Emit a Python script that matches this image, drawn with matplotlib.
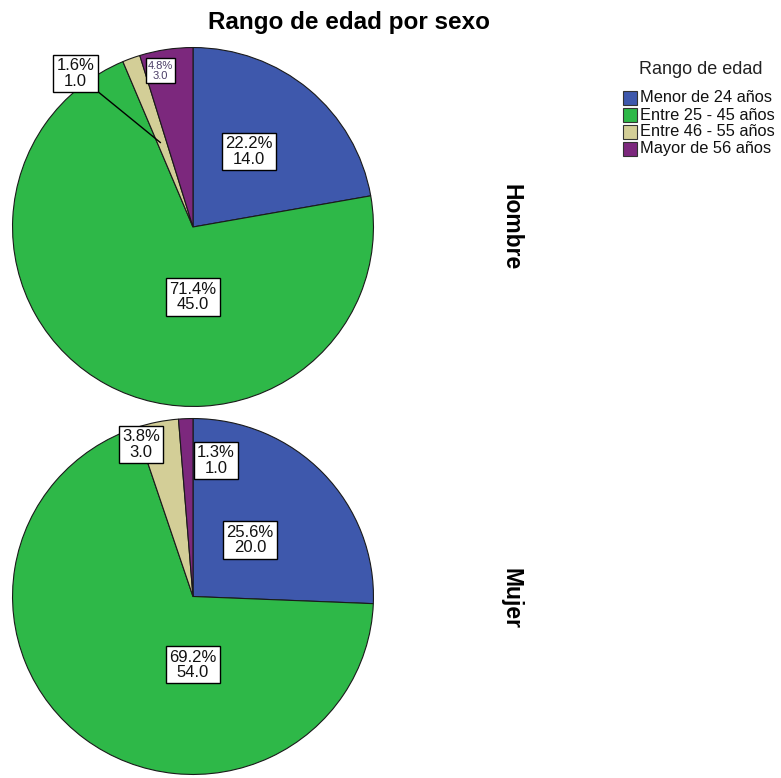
import matplotlib
matplotlib.use("Agg")
import matplotlib.pyplot as plt
from matplotlib.patches import Rectangle

plt.rcParams['font.family'] = ['Liberation Sans', 'DejaVu Sans']

# Data
categories = ["Menor de 24 años", "Entre 25 - 45 años", "Entre 46 - 55 años", "Mayor de 56 años"]
hombre_counts = [14, 45, 1, 3]
mujer_counts = [20, 54, 3, 1]
groups = ["Hombre", "Mujer"]
title = "Rango de edad por sexo"
legend_title = "Rango de edad"

colors = ["#3E58AC", "#2EB848", "#D3CE97", "#7C287D"]

W, H = 781, 778
fig = plt.figure(figsize=(W / 100, H / 100), dpi=100)

def px_axes(x0, y0, x1, y1):
    """Axes placed by pixel box (top-left origin)."""
    return fig.add_axes([x0 / W, 1 - y1 / H, (x1 - x0) / W, (y1 - y0) / H])

# label placement (axes data units, pie radius = 1) and per-label style
label_layout = {
    "Hombre": [
        dict(pos=(0.31, 0.42)),
        dict(pos=(0.0, -0.39)),
        dict(pos=(-0.65, 0.855), leader=(-0.18, 0.47)),
        dict(pos=(-0.18, 0.87), small=True),
    ],
    "Mujer": [
        dict(pos=(0.315, 0.317)),
        dict(pos=(0.0, -0.384)),
        dict(pos=(-0.287, 0.854)),
        dict(pos=(0.127, 0.765)),
    ],
}

pie_boxes = {"Hombre": (12, 47, 374, 407), "Mujer": (12, 418, 374, 775)}
data = {"Hombre": hombre_counts, "Mujer": mujer_counts}

for g in groups:
    ax = px_axes(*pie_boxes[g])
    vals = data[g]
    total = sum(vals)
    ax.pie(vals, colors=colors, startangle=90, counterclock=False, radius=1,
           wedgeprops=dict(edgecolor="#1a1a1a", linewidth=0.8))
    ax.set_aspect("auto")
    ax.set_xlim(-1.003, 1.003)
    ax.set_ylim(-1.003, 1.003)
    ax.axis("off")
    for v, lay in zip(vals, label_layout[g]):
        txt = f"{100 * v / total:.1f}%\n{v:.1f}"
        small = lay.get("small", False)
        fs = 8 if small else 12
        tc = "#4a3d66" if small else "#111111"
        bbox = dict(boxstyle="square,pad=0.2", fc="white", ec="black", lw=1)
        if "leader" in lay:
            ax.annotate(txt, xy=lay["leader"], xytext=lay["pos"], ha="center", va="center",
                        fontsize=fs, color=tc, linespacing=1.05, bbox=bbox,
                        arrowprops=dict(arrowstyle="-", color="black", lw=1,
                                        shrinkA=0, shrinkB=0))
        else:
            ax.text(*lay["pos"], txt, ha="center", va="center", fontsize=fs, color=tc,
                    linespacing=1.05, bbox=bbox)

# facet labels
fig.text(511 / W, 1 - 227 / H, "Hombre", rotation=270, ha="center", va="center",
         fontsize=16.5, fontweight="bold")
fig.text(511 / W, 1 - 598 / H, "Mujer", rotation=270, ha="center", va="center",
         fontsize=16.5, fontweight="bold")

# title
fig.text(349 / W, 1 - 22 / H, title, ha="center", va="center", fontsize=17.5,
         fontweight="bold")

# legend
fig.text(701 / W, 1 - 69 / H, legend_title, ha="center", va="center", fontsize=13,
         color="#222222")
for i, (cat, col) in enumerate(zip(categories, colors)):
    yc = 98 + 17 * i
    fig.patches.append(Rectangle((623 / W, 1 - (yc + 7) / H), 14 / W, 14 / H,
                                 transform=fig.transFigure, fc=col, ec="#333333",
                                 lw=0.8))
    fig.text(640 / W, 1 - yc / H, cat, ha="left", va="center", fontsize=11.8,
             color="#111111")

fig.savefig("out.png", dpi=100)
